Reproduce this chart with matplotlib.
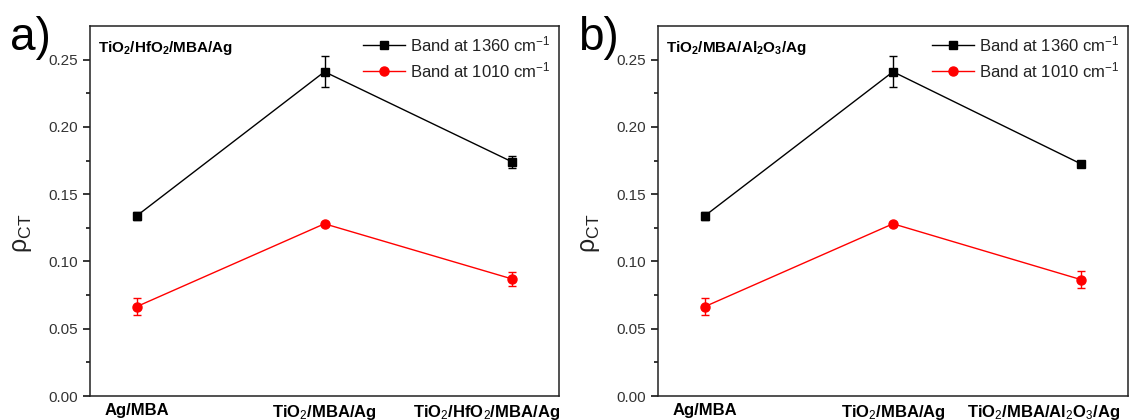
import numpy as np
import matplotlib
matplotlib.use("Agg")
import matplotlib.pyplot as plt
import matplotlib.transforms as mtransforms
from matplotlib.lines import Line2D

plt.rcParams['font.family'] = ['Liberation Sans', 'DejaVu Sans']
plt.rcParams['mathtext.fontset'] = 'custom'
plt.rcParams['mathtext.rm'] = 'Liberation Sans'
plt.rcParams['mathtext.it'] = 'Liberation Sans:italic'
plt.rcParams['mathtext.bf'] = 'Liberation Sans:bold'

# datos
categorias_a = ["Ag/MBA", r"TiO$_2$/MBA/Ag", r"TiO$_2$/HfO$_2$/MBA/Ag"]
categorias_b = ["Ag/MBA", r"TiO$_2$/MBA/Ag", r"TiO$_2$/MBA/Al$_2$O$_3$/Ag"]

banda1360_a = [0.134, 0.241, 0.174]
err1360_a = [0.003, 0.0115, 0.0045]
banda1010_a = [0.0665, 0.128, 0.087]
err1010_a = [0.0065, 0.0015, 0.0053]

banda1360_b = [0.134, 0.241, 0.1725]
err1360_b = [0.003, 0.0115, 0.0012]
banda1010_b = [0.0665, 0.128, 0.0865]
err1010_b = [0.0065, 0.0015, 0.0062]

titulos = [r"$\mathbf{TiO_2/HfO_2/MBA/Ag}$", r"$\mathbf{TiO_2/MBA/Al_2O_3/Ag}$"]
letras = ["a)", "b)"]
desplaz = [48, 39]   # corrimiento (px) de la ultima etiqueta x

fig = plt.figure(figsize=(11.31, 4.2), dpi=100)
ax_a = fig.add_axes([90/1131, 1-396/420, (559-90)/1131, (396-26)/420])
ax_b = fig.add_axes([658/1131, 1-396/420, (1128-658)/1131, (396-26)/420])

paneles = [
    (ax_a, categorias_a, banda1360_a, err1360_a, banda1010_a, err1010_a),
    (ax_b, categorias_b, banda1360_b, err1360_b, banda1010_b, err1010_b),
]

for k, (ax, cats, y1, e1, y2, e2) in enumerate(paneles):
    x = np.arange(len(cats))
    ax.errorbar(x, y1, yerr=e1, color='black', marker='s', markersize=5.5,
                lw=1.0, capsize=3, elinewidth=1.0, capthick=1.0)
    ax.errorbar(x, y2, yerr=e2, color='red', marker='o', markersize=6.5,
                lw=1.0, capsize=3, elinewidth=1.0, capthick=1.0)
    ax.set_xlim(-0.25, 2.25)
    ax.set_ylim(0, 0.275)
    ax.set_xticks(x)
    ax.set_xticklabels(cats, fontsize=12, fontweight='bold')
    ax.tick_params(axis='x', length=0, pad=5)
    etiquetas = ax.get_xticklabels()
    etiquetas[-1].set_horizontalalignment('right')
    etiquetas[-1].set_transform(etiquetas[-1].get_transform() +
                                mtransforms.ScaledTranslation(desplaz[k]/100, 0, fig.dpi_scale_trans))
    ax.set_yticks(np.arange(0, 0.26, 0.05))
    ax.set_yticks(np.arange(0, 0.26, 0.025), minor=True)
    ax.set_yticklabels(["%.2f" % v for v in np.arange(0, 0.26, 0.05)])
    ax.tick_params(axis='y', which='major', direction='out', length=5, width=1.1,
                   labelsize=11, labelcolor='#333333')
    ax.tick_params(axis='y', which='minor', direction='out', length=3, width=1.1)
    for s in ax.spines.values():
        s.set_linewidth(1.1)
        s.set_color('#222222')
    ax.set_ylabel(r"ρ$_{\mathrm{CT}}$", fontsize=18, color='#222222')
    ax.yaxis.set_label_coords(-0.12, 0.44)
    ax.text(0.018, 0.94, titulos[k], transform=ax.transAxes, fontsize=11,
            ha='left', va='center')
    manejadores = [
        Line2D([], [], color='black', marker='s', markersize=5.5, lw=1.0),
        Line2D([], [], color='red', marker='o', markersize=6.5, lw=1.0),
    ]
    ax.legend(manejadores, [r"Band at 1360 cm$^{-1}$", r"Band at 1010 cm$^{-1}$"],
              loc='upper right', frameon=False, fontsize=12, handlelength=2.5,
              borderaxespad=0.1, labelspacing=0.35, handletextpad=0.3,
              labelcolor='#222222')

fig.text(10/1131, 1-38/420, letras[0], fontsize=33, va='center', ha='left')
fig.text(578/1131, 1-38/420, letras[1], fontsize=33, va='center', ha='left')

fig.savefig("out.png", dpi=100)
